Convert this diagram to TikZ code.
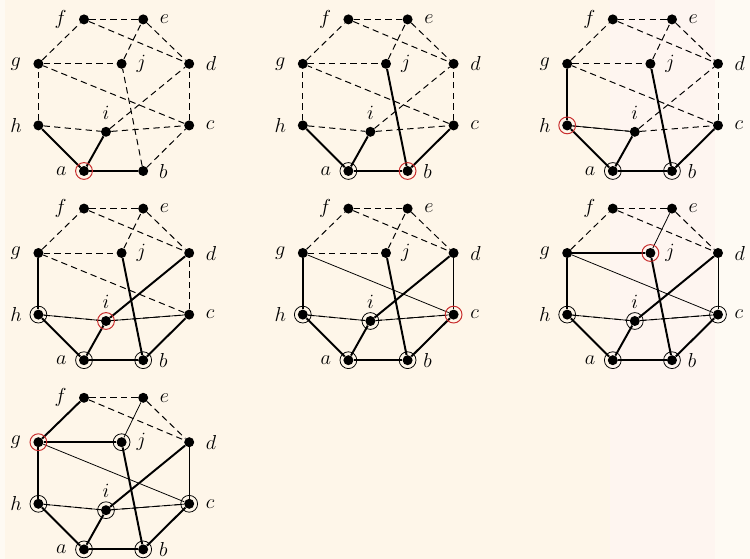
\documentclass[tikz,border=0pt]{standalone}
\usepackage{tikz}
\definecolor{bgcream}{RGB}{254,246,233}
\definecolor{bgpink}{RGB}{254,245,240}
\definecolor{bglight}{RGB}{254,250,243}
\definecolor{markred}{RGB}{200,45,45}

\begin{document}
\begin{tikzpicture}[%
      vertex/.style={%
        circle,
        fill         = black,
        inner sep    = 0pt,
        minimum size = 0.25cm,
      },
      vlabel/.style={font = \Large},
      unused/.style={line width = 0.7pt, dash pattern = on 4.5pt off 3pt},
      chosen/.style={line width = 1.4pt},
      checked/.style={line width = 0.55pt},
      done/.style={draw = black, line width = 0.55pt},
      current/.style={draw = markred, line width = 0.7pt},
      ]

      % background
      \useasboundingbox (-2.1,4.275) rectangle (16.65,-9.7);
      \fill[bgcream] (-2.1,4.275) rectangle (16.65,-9.7);
      \fill[bglight] (-2.1,4.275) rectangle (-1.975,-9.7);
      \fill[bgpink] (13.15,4.275) rectangle (15.775,-9.7);
      \fill[bglight] (15.775,4.275) rectangle (16.65,-9.7);

      \foreach \p in {1,...,7}{
        \pgfmathsetmacro{\px}{mod(\p-1,3)*6.61}
        \pgfmathsetmacro{\py}{-floor((\p-1)/3)*4.73}
        \begin{scope}[shift={(\px,\py)}]
          % vertices
          \foreach \vn/\vx/\vy/\lp/\ld in {a/0/0/left/0.18, b/1.48/0/right/0.14,
              c/2.63/1.14/right/0.16, d/2.63/2.68/right/0.16, e/1.48/3.79/right/0.16,
              f/0/3.79/left/0.18, g/-1.14/2.68/left/0.18, h/-1.14/1.14/left/0.16,
              i/0.55/0.98/above/0.06, j/0.94/2.68/right/0.12}
            \node[vertex, label={[vlabel, label distance=\ld cm]\lp:$\vn$}] (\vn\p) at (\vx,\vy) {};

          % edges: kind (1 chosen, 2 checked, 3 both) and the step it turns solid
          \foreach \u/\w/\k/\s in {a/h/1/1, a/i/1/1, a/b/1/1, b/j/1/2, b/c/1/2,
              h/g/1/3, h/i/3/3, i/d/1/4, i/c/3/4, c/d/2/5, c/g/2/5, g/j/1/6,
              j/e/2/6, g/f/1/7, f/e/1/8, f/d/1/8, e/d/1/8}{
            \ifnum\s>\p
              \draw[unused] (\u\p) -- (\w\p);
            \else
              \ifcase\k\or
                \draw[chosen] (\u\p) -- (\w\p);
              \or
                \draw[checked] (\u\p) -- (\w\p);
              \or
                \draw[unused] (\u\p) -- (\w\p);
                \draw[checked] (\u\p) -- (\w\p);
              \fi
            \fi
          }

          % visited and current vertex
          \foreach \vn/\vs in {a/1, b/2, h/3, i/4, c/5, j/6, g/7}{
            \ifnum\vs<\p
              \draw[done] (\vn\p) circle[radius=0.21cm];
            \else\ifnum\vs=\p
              \draw[current] (\vn\p) circle[radius=0.21cm];
            \fi\fi
          }
        \end{scope}
      }

    \end{tikzpicture}
\end{document}
